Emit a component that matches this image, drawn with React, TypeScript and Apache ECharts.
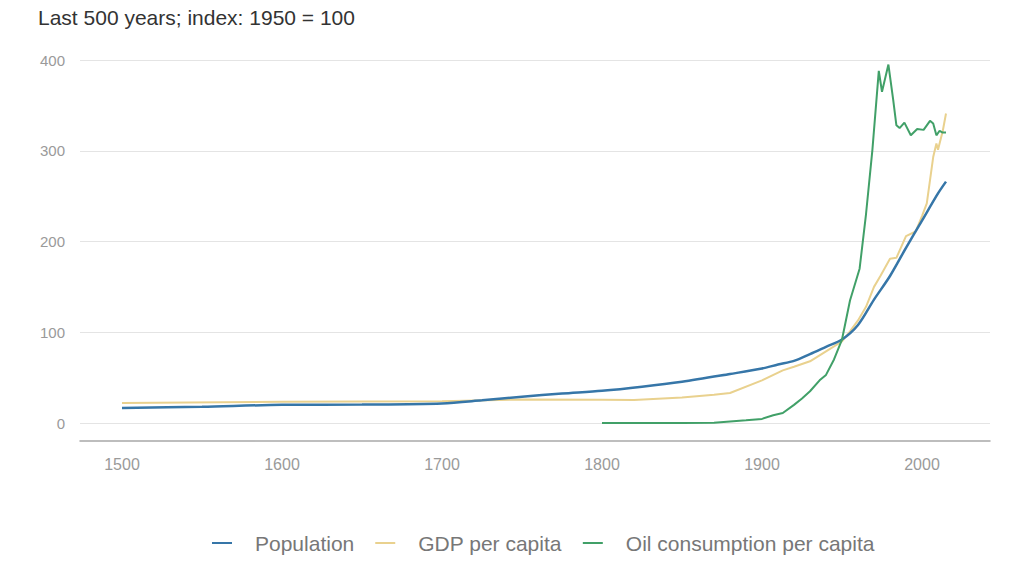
import React, { useEffect, useRef } from "react";
import * as echarts from "echarts";

const titleText = "Last 500 years; index: 1950 = 100";
const seriesNames = ["Population", "GDP per capita", "Oil consumption per capita"];

const popYears = [1500, 1550, 1600, 1650, 1700, 1725, 1750, 1775, 1800, 1825, 1850, 1880, 1900, 1910, 1920, 1930, 1940, 1950, 1960, 1970, 1980, 1990, 2000, 2010, 2015];
const popValues = [16.5, 18, 20, 20.3, 21.5, 25, 29, 32.5, 35.5, 40, 45.5, 54, 60, 64.5, 68.5, 76, 84, 92, 108, 136, 162, 193, 223, 253, 266];

const gdpYears = [1500, 1600, 1700, 1750, 1800, 1820, 1850, 1870, 1880, 1900, 1913, 1920, 1930, 1940, 1950, 1955, 1960, 1965, 1970, 1974, 1980, 1984, 1990, 1996, 2000, 2003, 2007, 2009, 2010, 2013, 2015];
const gdpValues = [22, 23.5, 24, 26, 25.5, 25.3, 28, 31, 33, 47, 58, 62, 68, 79, 90, 101, 113, 128, 150, 162, 181, 182, 206, 211, 228, 242, 293, 308, 301, 322, 341];

const oilYears = [1800, 1850, 1870, 1890, 1900, 1907, 1913, 1920, 1925, 1930, 1936, 1940, 1945, 1950, 1955, 1961, 1965, 1969, 1973, 1975, 1979, 1982, 1984, 1986, 1989, 1993, 1997, 2001, 2005, 2007, 2009, 2011, 2013, 2015];
const oilValues = [0, 0, 0.3, 3, 4.5, 8.5, 11, 20, 27, 35, 47, 53, 70, 92, 135, 170, 230, 301, 388, 365, 395, 356, 328, 325, 331, 317, 324, 323, 333, 330, 317, 322, 320, 320];

const yTicks = [0, 100, 200, 300, 400];

const pairs = (xs: number[], ys: number[]) => xs.map((x, i) => [x, ys[i]]);

export default function App() {
  const ref = useRef<HTMLDivElement>(null);
  useEffect(() => {
    if (!ref.current) return;
    const chart = echarts.init(ref.current, undefined, { renderer: "svg" });
    chart.setOption({
      animation: false,
      backgroundColor: "#ffffff",
      title: {
        text: titleText,
        left: 38,
        top: 7,
        padding: 0,
        textStyle: {
          fontFamily: "Liberation Sans, Arial, sans-serif",
          fontSize: 21,
          fontWeight: "normal",
          color: "#333333",
        },
      },
      legend: {
        data: seriesNames,
        left: 212,
        top: 532,
        padding: 0,
        icon: "rect",
        itemWidth: 20,
        itemHeight: 2,
        itemGap: 21,
        textStyle: {
          fontFamily: "Liberation Sans, Arial, sans-serif",
          fontSize: 21,
          color: "#777777",
          padding: [0, 0, 0, 18],
          lineHeight: 22,
        },
      },
      grid: { left: 80, right: 34, top: 60, bottom: 150, containLabel: false },
      xAxis: {
        type: "value",
        min: 1473.75,
        max: 2042.5,
        minInterval: 100,
        maxInterval: 100,
        offset: 18,
        axisLine: { show: true, onZero: false, lineStyle: { color: "#a8a8a8", width: 1.5 } },
        axisTick: { show: false },
        splitLine: { show: false },
        axisLabel: {
          margin: 15,
          fontFamily: "Liberation Sans, Arial, sans-serif",
          fontSize: 16,
          color: "#9a9a9a",
          formatter: (v: number) => (Math.abs(v % 100) < 1e-6 ? String(v) : ""),
        },
      },
      yAxis: {
        type: "value",
        min: yTicks[0],
        max: yTicks[yTicks.length - 1],
        interval: 100,
        axisLine: { show: false },
        axisTick: { show: false },
        splitLine: { lineStyle: { color: "#e4e4e4", width: 1 } },
        axisLabel: {
          margin: 15,
          fontFamily: "Liberation Sans, Arial, sans-serif",
          fontSize: 15,
          color: "#9a9a9a",
        },
      },
      series: [
        {
          name: seriesNames[1],
          type: "line",
          symbol: "none",
          data: pairs(gdpYears, gdpValues),
          itemStyle: { color: "#e9d18e" },
          lineStyle: { color: "#e9d18e", width: 2 },
          z: 2,
        },
        {
          name: seriesNames[0],
          type: "line",
          symbol: "none",
          smooth: 0.3,
          data: pairs(popYears, popValues),
          itemStyle: { color: "#3676a8" },
          lineStyle: { color: "#3676a8", width: 2.5 },
          z: 3,
        },
        {
          name: seriesNames[2],
          type: "line",
          symbol: "none",
          data: pairs(oilYears, oilValues),
          itemStyle: { color: "#41a068" },
          lineStyle: { color: "#41a068", width: 2 },
          z: 4,
        },
      ],
    });
    return () => chart.dispose();
  }, []);
  return <div ref={ref} style={{ width: 1024, height: 573, position: "absolute", left: 0, top: 0 }} />;
}
